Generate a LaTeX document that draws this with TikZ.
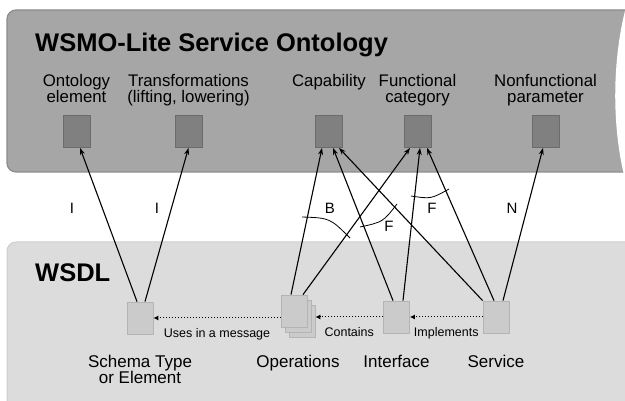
\documentclass[tikz,border=0pt]{standalone}
\usepackage{fontspec}
\setmainfont{Liberation Sans}
\usetikzlibrary{arrows.meta}
\definecolor{ontogray}{HTML}{A6A6A6}
\definecolor{ontoline}{HTML}{8C8C8C}
\definecolor{wsdlgray}{HTML}{DCDCDC}
\definecolor{wsdlline}{HTML}{CECECE}
\definecolor{boxdark}{HTML}{808080}
\definecolor{boxdarkline}{HTML}{6C6C6C}
\definecolor{boxlight}{HTML}{CBCBCB}
\definecolor{boxlightline}{HTML}{B4B4B4}
\tikzset{>={Stealth[length=7pt,width=5pt]}}
\tikzset{
  darkbox/.style={draw=boxdarkline, fill=boxdark, line width=0.8pt, minimum width=27pt, minimum height=32pt, inner sep=0pt},
  lightbox/.style={draw=boxlightline, fill=boxlight, line width=0.8pt, minimum width=26pt, minimum height=32pt, inner sep=0pt},
  bandtitle/.style={anchor=base west, inner sep=0pt, font=\fontsize{25.5}{27}\selectfont\bfseries},
  toplabel/.style={anchor=base, align=center, inner sep=0pt, font=\fontsize{16.8}{16}\selectfont},
  botlabel/.style={anchor=base, align=center, inner sep=0pt, font=\fontsize{17}{17}\selectfont},
  linklabel/.style={inner sep=0pt, font=\fontsize{15}{15}\selectfont},
  relabel/.style={inner sep=0pt, text height=9pt, text depth=2.5pt, font=\fontsize{12.5}{13}\selectfont},
  annot/.style={->, line width=1.1pt},
  usesarrow/.style={-{Latex[length=5pt,width=5pt]}, line width=1pt, dotted},
  markarc/.style={line width=0.8pt}
}

\begin{document}
\begin{tikzpicture}[x=1pt,y=-1pt]
\useasboundingbox (0,0) rectangle (625,401);

% the two layers
\draw[ontoline, fill=ontogray, line width=1.2pt, rounded corners=9pt] (640,10) -- (7,10) -- (7,172) -- (640,172);
\fill[white] (626,7) .. controls (612,60) and (612,125) .. (624,175) -- (632,175) -- (632,7) -- cycle;
\draw[wsdlline, fill=wsdlgray, line width=1pt, rounded corners=9pt] (640,242) -- (7,242) -- (7,412) -- (640,412);

\node[bandtitle] (ontoT) at (35,52) {WSMO-Lite Service Ontology};
\node[bandtitle] (wsdlT) at (35,282) {WSDL};

% ontology elements
\node[darkbox] (onto) at (76.5,131.5) {};
\node[darkbox] (trans) at (188.5,131.5) {};
\node[darkbox] (capa) at (329,131.5) {};
\node[darkbox] (func) at (417.5,131.5) {};
\node[darkbox] (nonf) at (545.5,131.5) {};

% base of a two line label is its last line
\node[toplabel] (ontoL) at (onto |- 0,103) {Ontology\\element};
\node[toplabel] (transL) at (trans |- 0,103) {Transformations\\(lifting, lowering)};
\node[toplabel] (capaL) at (capa |- 0,87) {Capability};
\node[toplabel] (funcL) at (func |- 0,103) {Functional\\category};
\node[toplabel] (nonfL) at (nonf |- 0,103) {Nonfunctional\\parameter};

% wsdl components
\node[lightbox] (schema) at (140,318) {};
\node[lightbox] (opsback) at (302,321) {};
\node[lightbox] (opsmid) at (298,316) {};
\node[lightbox] (ops) at (294,311) {};
\node[lightbox] (iface) at (396.5,317) {};
\node[lightbox] (serv) at (496,317) {};

\node[botlabel] (schemaL) at (schema |- 0,384) {Schema Type\\or Element};
\node[botlabel] (opsL) at (opsmid |- 0,367) {Operations};
\node[botlabel] (ifaceL) at (iface |- 0,367) {Interface};
\node[botlabel] (servL) at (serv |- 0,367) {Service};

\draw[usesarrow] (serv.west) -- (iface.east) node[midway, below=10pt, relabel]{Implements};
\draw[usesarrow] (iface.west) -- (opsback.east |- iface.west) node[midway, below=10pt, relabel]{Contains};
\draw[usesarrow] (ops.west |- schema.east) -- (schema.east) node[midway, below=10pt, relabel]{Uses in a message};

% annotations
\draw[annot] ([xshift=-3pt]schema.north) -- ([xshift=3.5pt]onto.south);
\draw[annot] ([xshift=5pt]schema.north) -- (trans.south);
\draw[annot] ([xshift=-3pt]ops.north) -- ([xshift=-7pt]capa.south);
\draw[annot] ([xshift=9pt]ops.north) -- ([xshift=-7.5pt]func.south);
\draw[annot] ([xshift=-3.5pt]iface.north) -- ([xshift=4pt]capa.south);
\draw[annot] ([xshift=6.5pt]iface.north) -- ([xshift=2.5pt]func.south);
\draw[annot] (serv.north west) -- ([xshift=10pt]capa.south);
\draw[annot] ([xshift=-2pt]serv.north) -- ([xshift=9.5pt]func.south);
\draw[annot] ([xshift=7pt]serv.north) -- ([xshift=-2.5pt]nonf.south);

\draw[markarc] (302,217) .. controls (330,218) .. (350,238);
\draw[markarc] (360,227) .. controls (383,222) .. (397,204);
\draw[markarc] (411,196) .. controls (431,199) .. (449,189);

\node[linklabel] (linkI1) at (72,208) {I};
\node[linklabel] (linkI2) at (157,208) {I};
\node[linklabel] (linkB) at (330,208) {B};
\node[linklabel] (linkF1) at (389,226) {F};
\node[linklabel] (linkF2) at (432,208) {F};
\node[linklabel] (linkN) at (512,208) {N};

\end{tikzpicture}
\end{document}
